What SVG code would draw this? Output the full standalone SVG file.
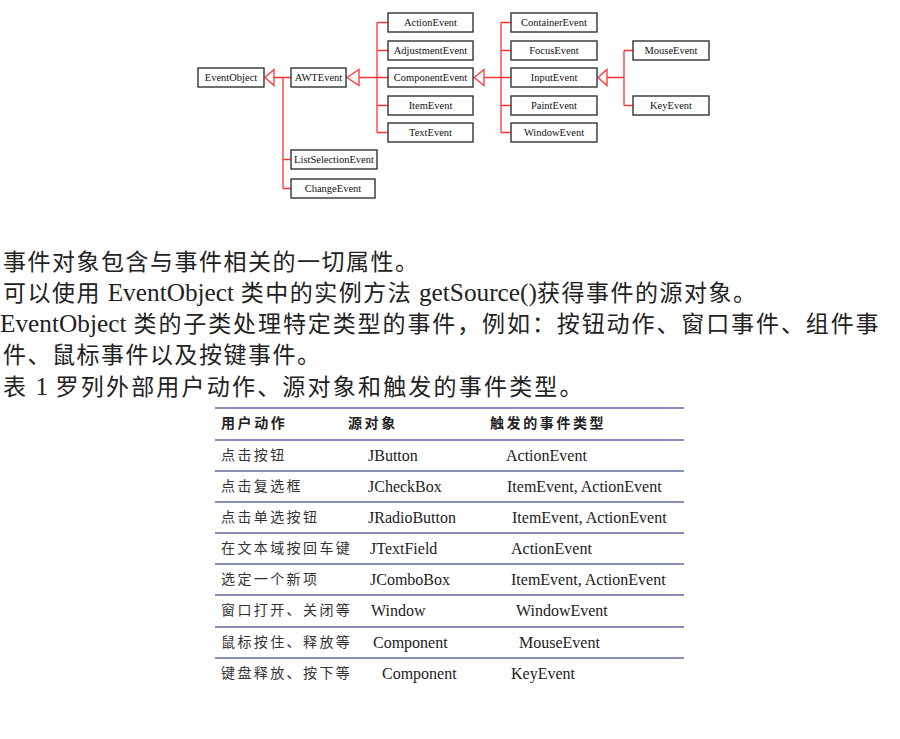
<svg xmlns="http://www.w3.org/2000/svg" width="900" height="739" viewBox="0 0 900 739">
<style>
.box{fill:#fff;stroke:#333;stroke-width:1.4}
.bl{font-family:"Liberation Serif",serif;font-size:10.5px;fill:#111;text-anchor:middle}
.c{fill:none;stroke:#f33;stroke-width:1.3}
.tri{fill:#fff;stroke:#f33;stroke-width:1.3}
.p{font-family:"Noto Sans CJK SC",sans-serif;font-size:23px;letter-spacing:1.5px;fill:#222}
.p3{letter-spacing:1.9px}
.p5{letter-spacing:2.2px}
.l{font-family:"Liberation Serif",serif;font-size:25.3px;letter-spacing:0;fill:#222}
.rule{stroke:#8890b8;stroke-width:2}
.th{font-family:"Noto Sans CJK SC",sans-serif;font-size:14px;font-weight:bold;letter-spacing:2.6px;fill:#222}
.tc{font-family:"Noto Sans CJK SC",sans-serif;font-size:14px;letter-spacing:2.4px;fill:#333}
.tl{font-family:"Liberation Serif",serif;font-size:16px;fill:#222}
</style>
<rect width="900" height="739" fill="#fff"/>
<g id="connectors">
<polygon class="tri" points="265,77.5 274,69.5 274,85.5"/>
<path class="c" d="M274,77.5H291M283,77.5V188.5M283,159.5H291M283,188.5H291"/>
<polygon class="tri" points="347,77.5 359,69.5 359,85.5"/>
<path class="c" d="M359,77.5H388M377,22.5V132.5M377,22.5H388M377,50.5H388M377,105.5H388M377,132.5H388"/>
<polygon class="tri" points="474,77.5 484,69.5 484,85.5"/>
<path class="c" d="M484,77.5H511M501,22.5V132.5M501,22.5H511M501,50.5H511M501,105.5H511M501,132.5H511"/>
<polygon class="tri" points="598,77.5 607,69.5 607,85.5"/>
<path class="c" d="M607,77.5H624M624,50.5V105.5M624,50.5H633M624,105.5H633"/>
</g>
<g id="n-eventobject"><rect class="box" x="198" y="68" width="66" height="19"/><text class="bl" x="231" y="81">EventObject</text></g>
<g id="n-awtevent"><rect class="box" x="291" y="68" width="55" height="19"/><text class="bl" x="318.5" y="81">AWTEvent</text></g>
<g id="n-actionevent"><rect class="box" x="388" y="13" width="85" height="19"/><text class="bl" x="430.5" y="26">ActionEvent</text></g>
<g id="n-adjustmentevent"><rect class="box" x="388" y="41" width="85" height="19"/><text class="bl" x="430.5" y="54">AdjustmentEvent</text></g>
<g id="n-componentevent"><rect class="box" x="388" y="68" width="85" height="19"/><text class="bl" x="430.5" y="81">ComponentEvent</text></g>
<g id="n-itemevent"><rect class="box" x="388" y="96" width="85" height="19"/><text class="bl" x="430.5" y="109">ItemEvent</text></g>
<g id="n-textevent"><rect class="box" x="388" y="123" width="85" height="19"/><text class="bl" x="430.5" y="136">TextEvent</text></g>
<g id="n-listselectionevent"><rect class="box" x="291" y="150" width="86" height="19"/><text class="bl" x="334" y="163">ListSelectionEvent</text></g>
<g id="n-changeevent"><rect class="box" x="291" y="179" width="84" height="19"/><text class="bl" x="333" y="192">ChangeEvent</text></g>
<g id="n-containerevent"><rect class="box" x="511" y="13" width="86" height="19"/><text class="bl" x="554" y="26">ContainerEvent</text></g>
<g id="n-focusevent"><rect class="box" x="511" y="41" width="86" height="19"/><text class="bl" x="554" y="54">FocusEvent</text></g>
<g id="n-inputevent"><rect class="box" x="511" y="68" width="86" height="19"/><text class="bl" x="554" y="81">InputEvent</text></g>
<g id="n-paintevent"><rect class="box" x="511" y="96" width="86" height="19"/><text class="bl" x="554" y="109">PaintEvent</text></g>
<g id="n-windowevent"><rect class="box" x="511" y="123" width="86" height="19"/><text class="bl" x="554" y="136">WindowEvent</text></g>
<g id="n-mouseevent"><rect class="box" x="633" y="41" width="76" height="19"/><text class="bl" x="671" y="54">MouseEvent</text></g>
<g id="n-keyevent"><rect class="box" x="633" y="96" width="76" height="19"/><text class="bl" x="671" y="109">KeyEvent</text></g>
<g id="paragraph">
<text class="p" x="3" y="270">事件对象包含与事件相关的一切属性。</text>
<text class="p" x="3" y="301">可以使用 <tspan class="l">EventObject</tspan> 类中的实例方法 <tspan class="l">getSource()</tspan>获得事件的源对象。</text>
<text class="p p3" x="0" y="332"><tspan class="l">EventObject</tspan> 类的子类处理特定类型的事件，例如：按钮动作、窗口事件、组件事</text>
<text class="p" x="3" y="363">件、鼠标事件以及按键事件。</text>
<text class="p p5" x="3" y="395">表 <tspan class="l">1</tspan> 罗列外部用户动作、源对象和触发的事件类型。</text>
</g>
<g id="table">
<path class="rule" d="M215,408H684M215,440H684M215,471H684M215,502H684M215,533H684M215,564H684M215,595H684M215,627H684M215,658H684"/>
<text class="th" x="221" y="428">用户动作</text>
<text class="th" x="348" y="428">源对象</text>
<text class="th" x="490" y="428">触发的事件类型</text>
<text class="tc" x="221" y="460">点击按钮</text><text class="tl" x="368" y="460.5">JButton</text><text class="tl" x="506" y="460.5">ActionEvent</text>
<text class="tc" x="221" y="491">点击复选框</text><text class="tl" x="368" y="491.5">JCheckBox</text><text class="tl" x="507" y="491.5">ItemEvent, ActionEvent</text>
<text class="tc" x="221" y="522">点击单选按钮</text><text class="tl" x="368" y="522.5">JRadioButton</text><text class="tl" x="512" y="522.5">ItemEvent, ActionEvent</text>
<text class="tc" x="221" y="553">在文本域按回车键</text><text class="tl" x="370" y="553.5">JTextField</text><text class="tl" x="511" y="553.5">ActionEvent</text>
<text class="tc" x="221" y="584">选定一个新项</text><text class="tl" x="370" y="584.5">JComboBox</text><text class="tl" x="511" y="584.5">ItemEvent, ActionEvent</text>
<text class="tc" x="221" y="615">窗口打开、关闭等</text><text class="tl" x="371" y="615.5">Window</text><text class="tl" x="516" y="615.5">WindowEvent</text>
<text class="tc" x="221" y="647">鼠标按住、释放等</text><text class="tl" x="373" y="647.5">Component</text><text class="tl" x="519" y="647.5">MouseEvent</text>
<text class="tc" x="221" y="678">键盘释放、按下等</text><text class="tl" x="382" y="678.5">Component</text><text class="tl" x="511" y="678.5">KeyEvent</text>
</g>
</svg>
